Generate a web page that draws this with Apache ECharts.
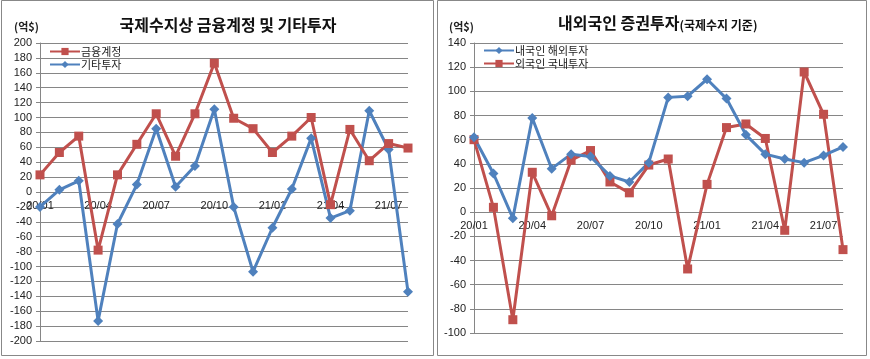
<!DOCTYPE html>
<html><head><meta charset="utf-8">
<script src="https://cdn.jsdelivr.net/npm/echarts@6/dist/echarts.min.js"></script>
<style>html,body{margin:0;padding:0;background:#fff}#c{width:870px;height:359px}</style>
</head><body><div id="c"></div>
<script>
const categories = ['20/01','20/02','20/03','20/04','20/05','20/06','20/07','20/08','20/09','20/10','20/11','20/12','21/01','21/02','21/03','21/04','21/05','21/06','21/07','21/08'];
// Left chart
const finAccount = [23,53,75,-78,23,64,105,48,105,173,99,85,53,75,100,-17,84,42,65,59];
const otherInvest = [-20,3,15,-173,-43,10,85,7,35,111,-20,-107,-48,4,72,-35,-25,109,57,-134];
// Right chart
const residentsAbroad = [62,32,-5,78,36,48,46,30,25,41,95,96,110,94,64,48,44,41,47,54];
const foreignersDomestic = [60,4,-89,33,-3,43,51,25,16,39,44,-47,23,70,73,61,-15,116,81,-31];
const leftTitle = '국제수지상 금융계정 및 기타투자';
const rightTitleMain = '내외국인 증권투자';
const rightTitleSub = '(국제수지 기준)';
const unitLabel = '(억$)';

const RED = '#C0504D', BLUE = '#4F81BD', GRIDC = '#868686';
const FONT = '"Liberation Sans", "Noto Sans CJK KR", sans-serif';
const KFONT = '"Noto Sans CJK KR", sans-serif';

// grid geometry
const G = [
  {left:40, top:43, right:408, bottom:341, min:-200, max:200},
  {left:474, top:43, right:843, bottom:333, min:-100, max:140}
];
function zeroOffset(g){
  const h = g.bottom - g.top;
  return -(h * (0 - g.min) / (g.max - g.min));
}
function xAxis(gi){
  return {type:'category', gridIndex:gi, data:categories, boundaryGap:false,
    position:'bottom', offset: zeroOffset(G[gi]),
    axisLine:{onZero:false, lineStyle:{color:GRIDC, width:1}},
    axisTick:{show:false},
    axisLabel:{interval:2, color:'#222', fontSize:11, fontFamily:FONT, margin:8},
    splitLine:{show:false}};
}
function yAxis(gi){
  return {type:'value', gridIndex:gi, min:G[gi].min, max:G[gi].max, interval:20,
    axisLine:{show:true, lineStyle:{color:GRIDC}},
    axisTick:{show:true, length:4, inside:false, lineStyle:{color:GRIDC}},
    axisLabel:{color:'#222', fontSize:11, fontFamily:FONT, margin:8},
    splitLine:{lineStyle:{color:GRIDC, width:1}}};
}
function series(name, data, color, symbol, gi){
  return {name:name, type:'line', xAxisIndex:gi, yAxisIndex:gi, data:data,
    symbol:symbol, symbolSize: symbol==='rect'?9:10, showSymbol:true,
    lineStyle:{color:color, width:3}, itemStyle:{color:color},
    emphasis:{disabled:true}, animation:false};
}
const chart = echarts.init(document.getElementById('c'), null, {renderer:'canvas'});
chart.setOption({
  animation:false,
  backgroundColor:'#fff',
  title:[
    {text:leftTitle, left:223, top:12, textAlign:'center',
     textStyle:{fontSize:16, fontWeight:'bold', fontFamily:KFONT, color:'#111'}},
    {text:'{a|'+rightTitleMain+'}{b|'+rightTitleSub+'}', left:553, top:10,
     textStyle:{rich:{a:{fontSize:16, fontWeight:'bold', fontFamily:KFONT, color:'#111'},
                     b:{fontSize:12, fontWeight:'bold', fontFamily:KFONT, color:'#111', padding:[4,0,0,0]}}}},
    {text:unitLabel, left:9, top:16, textStyle:{fontSize:11, fontWeight:'bold', fontFamily:KFONT, color:'#222'}},
    {text:unitLabel, left:444, top:16, textStyle:{fontSize:11, fontWeight:'bold', fontFamily:KFONT, color:'#222'}}
  ],
  legend:[
    {data:['금융계정','기타투자'], orient:'vertical', left:49, top:46, padding:0, itemWidth:30, itemHeight:9, itemGap:2,
     textStyle:{fontSize:11, fontFamily:KFONT, color:'#222', padding:[0,0,0,-4]}},
    {data:['내국인 해외투자','외국인 국내투자'], orient:'vertical', left:483, top:45, padding:0, itemWidth:30, itemHeight:9, itemGap:2,
     textStyle:{fontSize:11, fontFamily:KFONT, color:'#222', padding:[0,0,0,-4]}}
  ],
  grid:G.map(g => ({left:g.left, right:870-g.right, top:g.top, bottom:359-g.bottom})),
  xAxis:[xAxis(0), xAxis(1)],
  yAxis:[yAxis(0), yAxis(1)],
  series:[
    series('기타투자', otherInvest, BLUE, 'diamond', 0),
    series('금융계정', finAccount, RED, 'rect', 0),
    series('외국인 국내투자', foreignersDomestic, RED, 'rect', 1),
    series('내국인 해외투자', residentsAbroad, BLUE, 'diamond', 1)
  ],
  graphic:[
    {type:'rect', shape:{x:1.5, y:0.5, width:432, height:355}, style:{fill:'none', stroke:'#888', lineWidth:1}, z:-1},
    {type:'rect', shape:{x:437.5, y:0.5, width:429, height:355}, style:{fill:'none', stroke:'#888', lineWidth:1}, z:-1}
  ]
});
</script></body></html>
